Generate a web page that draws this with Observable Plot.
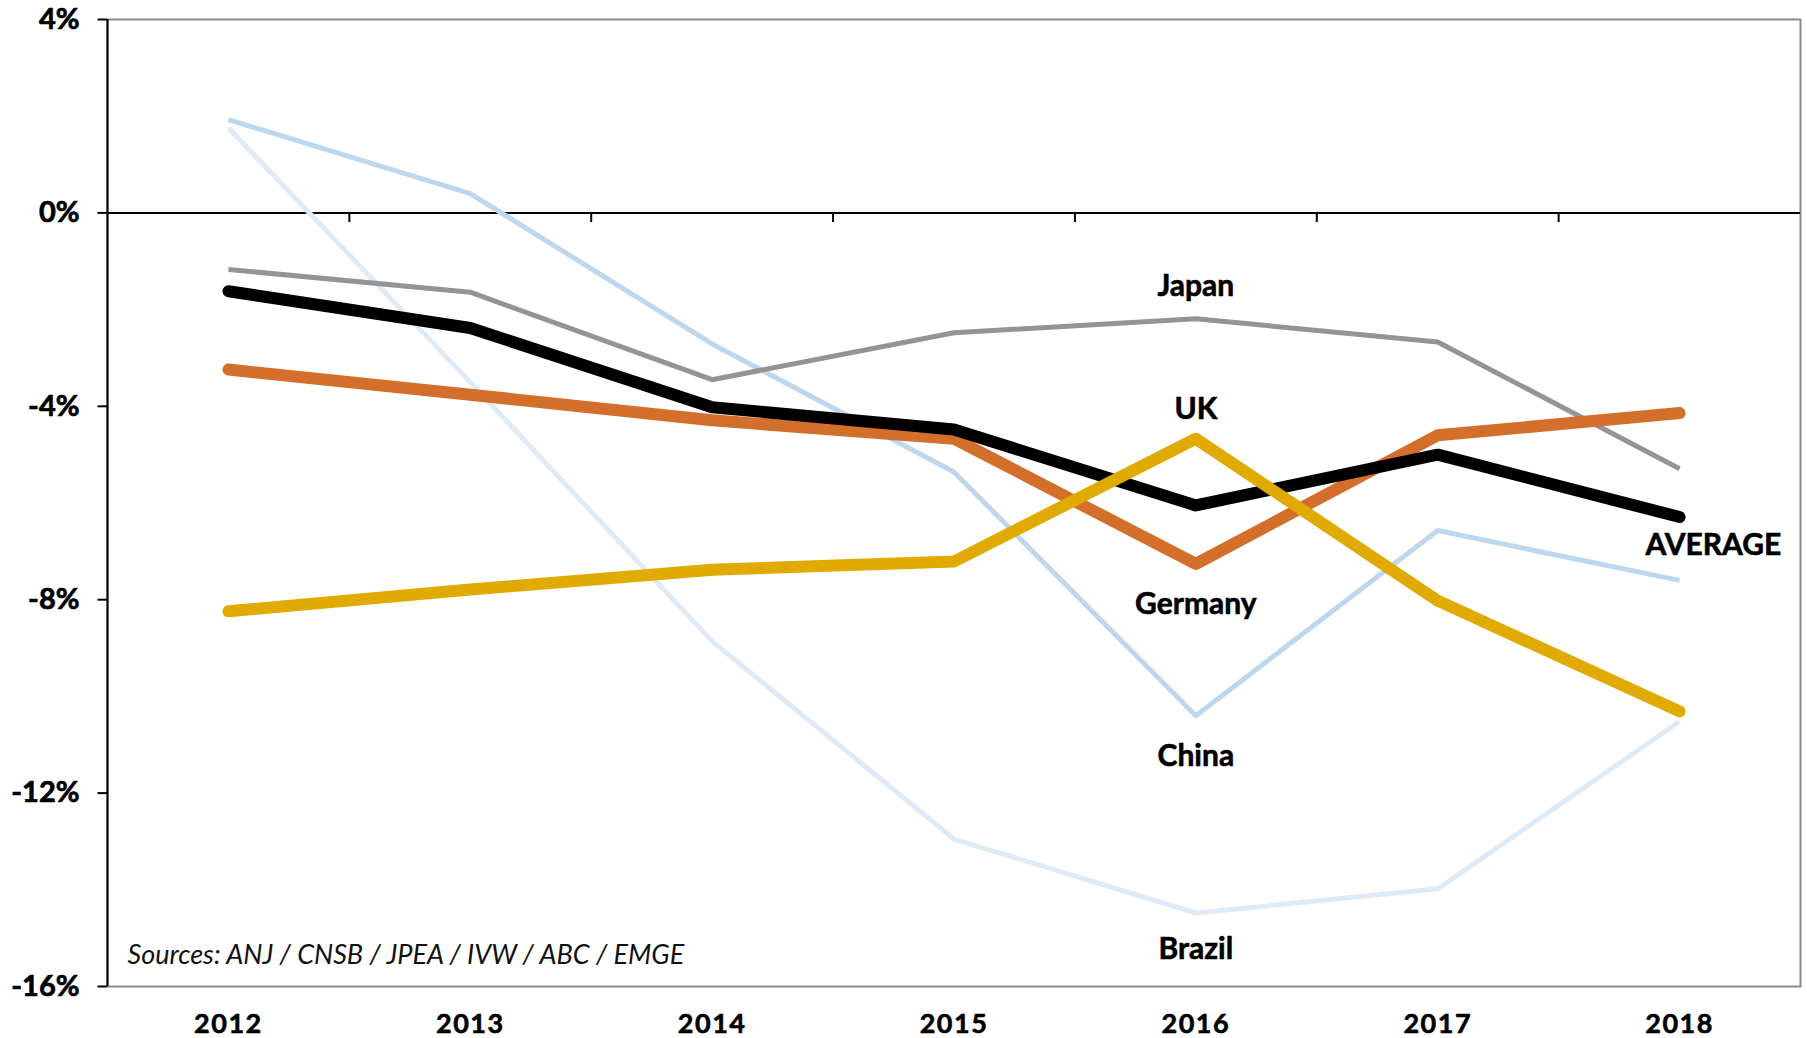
<!DOCTYPE html>
<html><head><meta charset="utf-8">
<script src="https://cdn.jsdelivr.net/npm/d3@7"></script>
<script src="https://cdn.jsdelivr.net/npm/@observablehq/plot@0.6"></script>
<style>
html,body{margin:0;padding:0;background:#fff;overflow:hidden}
#chart svg{display:block;overflow:visible}
.yax text{stroke:#000;stroke-width:0.7px}
.xax text{stroke:#000;stroke-width:0.6px;letter-spacing:1.5px}
.serieslabels text{stroke:#000;stroke-width:0.6px}
</style></head><body><div id="chart"></div>
<script>
const years = [2012, 2013, 2014, 2015, 2016, 2017, 2018];
const brazil  = [1.76, -3.5, -8.86, -12.95, -14.48, -13.98, -10.52];
const china   = [1.93, 0.40, -2.71, -5.36, -10.40, -6.57, -7.60];
const japan   = [-1.17, -1.64, -3.45, -2.48, -2.19, -2.67, -5.29];
const germany = [-3.24, -3.76, -4.29, -4.67, -7.26, -4.60, -4.14];
const average = [-1.62, -2.38, -4.02, -4.48, -6.05, -5.00, -6.29];
const uk      = [-8.24, -7.79, -7.38, -7.21, -4.67, -8.02, -10.31];
const yTicks = [4, 0, -4, -8, -12, -16];
const labelNames  = ["Japan", "UK", "Germany", "China", "Brazil", "AVERAGE"];
const labelYears  = [2016, 2016, 2016, 2016, 2016, 2018.14];
const labelValues = [-1.51, -4.06, -8.09, -11.24, -15.24, -6.88];
const source = "Sources: ANJ / CNSB / JPEA / IVW / ABC / EMGE";

const rows = vals => years.map((year, i) => ({year, value: vals[i]}));
const boundaries = years.slice(0, -1).map(y => y + 0.5);
const labels = labelNames.map((name, i) => ({name, year: labelYears[i], value: labelValues[i]}));

const series = [
  {vals: brazil, color: "#deebf7", w: 5, cap: "butt"},
  {vals: china, color: "#bdd7ee", w: 5, cap: "butt"},
  {vals: japan, color: "#949494", w: 5, cap: "butt"},
  {vals: germany, color: "#d36e2b", w: 12, cap: "round"},
  {vals: average, color: "#000000", w: 12, cap: "round"},
  {vals: uk, color: "#e1aa00", w: 12, cap: "round"}
];

const chart = Plot.plot({
  width: 1807,
  height: 1038,
  marginLeft: 107,
  marginRight: 7,
  marginTop: 19,
  marginBottom: 52,
  x: {domain: [2011.5, 2018.5]},
  y: {domain: [-16, 4]},
  marks: [
    Plot.frame({stroke: "#8c8c8c", strokeWidth: 2}),
    Plot.ruleY([0], {stroke: "#000", strokeWidth: 2}),
    Plot.ruleX(boundaries, {y1: 0, y2: -0.2, stroke: "#000", strokeWidth: 2}),
    Plot.ruleX([2011.5], {stroke: "#000", strokeWidth: 2}),
    Plot.axisY({ticks: yTicks, tickFormat: () => "", tickSize: 9.5, strokeWidth: 2, stroke: "#000", label: null}),
    Plot.text(yTicks, {y: d => d, text: d => d + "%", frameAnchor: "left", dx: -28, textAnchor: "end", fontFamily: "Lato, sans-serif", fontSize: 29, fontWeight: "bold", fill: "#000", className: "yax"}),
    Plot.axisX({ticks: years, tickFormat: d => String(d), tickSize: 0, tickPadding: 27, fontFamily: "Lato, sans-serif", fontSize: 27, fontWeight: "bold", fill: "#000", className: "xax", label: null}),
    ...series.map(s => Plot.line(rows(s.vals), {x: "year", y: "value", stroke: s.color, strokeWidth: s.w, strokeLinecap: s.cap, strokeLinejoin: "round"})),
    Plot.text(labels, {x: "year", y: "value", text: "name", fontFamily: "Lato, sans-serif", fontWeight: "bold", fontSize: 30, fill: "#000", className: "serieslabels", style: "letter-spacing:3px"}),
    Plot.text([source], {frameAnchor: "bottom-left", dx: 20, dy: -31, fontFamily: "Lato, sans-serif", fontStyle: "italic", fontSize: 27, fill: "#111", textAnchor: "start", lineAnchor: "middle", style: "letter-spacing:0.8px"})
  ]
});
document.getElementById("chart").appendChild(chart);
</script>
</body></html>
